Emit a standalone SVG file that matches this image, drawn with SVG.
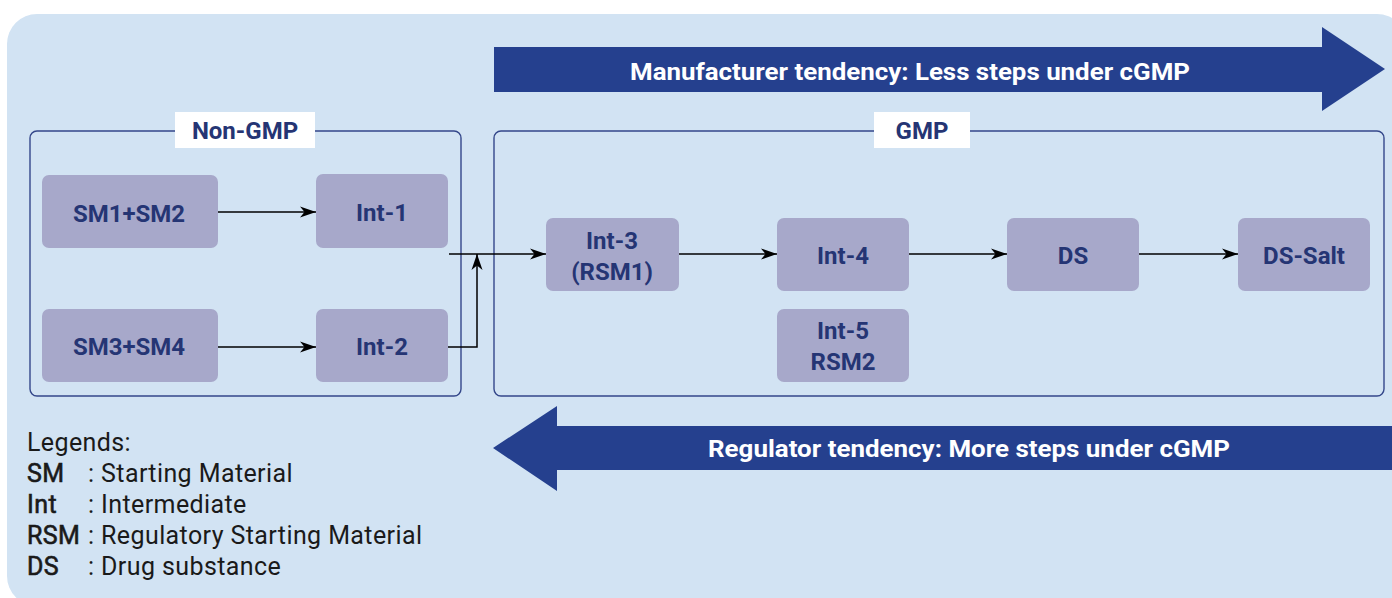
<svg xmlns="http://www.w3.org/2000/svg" width="1392" height="598" viewBox="0 0 1392 598">
<defs>
<style>
.bg{fill:#d2e3f3}
.frame{fill:none;stroke:#34478a;stroke-width:1.4}
.lbl{fill:#ffffff}
.lbltxt{font-family:Roboto,"Liberation Sans",sans-serif;font-weight:bold;font-size:24px;fill:#253574;text-anchor:middle}
.node rect{fill:#a7a8ca}
.node text{font-family:Roboto,"Liberation Sans",sans-serif;font-weight:bold;font-size:24px;fill:#253574;text-anchor:middle}
.band{fill:#25408e}
.bandtxt{font-family:Roboto,"Liberation Sans",sans-serif;font-weight:bold;font-size:23px;fill:#ffffff;text-anchor:middle}
.conn{fill:none;stroke:#000000;stroke-width:1.5}
.leg{font-family:Roboto,"Liberation Sans",sans-serif;font-size:25px;letter-spacing:0.4px;fill:#1a1a1a}
.legb{stroke:#1a1a1a;stroke-width:0.6}
</style>
<marker id="ah" markerUnits="userSpaceOnUse" markerWidth="17" markerHeight="12" refX="16" refY="6" orient="auto">
<path d="M0,0.5 L16,6 L0,11.5 L4.5,6 Z" fill="#000000"/>
</marker>
</defs>

<rect class="bg" x="7" y="14" width="1400" height="592" rx="30"/>

<g id="tendency-manufacturer">
<polygon class="band" points="494,47 1322,47 1322,27 1385,69 1322,111 1322,92 494,92"/>
<text class="bandtxt" x="910" y="80" textLength="560" lengthAdjust="spacingAndGlyphs">Manufacturer tendency: Less steps under cGMP</text>
</g>

<g id="tendency-regulator">
<polygon class="band" points="493,448 557,406 557,426 1400,426 1400,470 557,470 557,491"/>
<text class="bandtxt" x="969" y="457" textLength="522" lengthAdjust="spacingAndGlyphs">Regulator tendency: More steps under cGMP</text>
</g>

<g id="non-gmp">
<rect class="frame" x="30" y="131" width="431" height="265" rx="7"/>
<rect class="lbl" x="175" y="112" width="140" height="36"/>
<text class="lbltxt" x="245" y="139">Non-GMP</text>
</g>

<g id="gmp">
<rect class="frame" x="494" y="131" width="890" height="265" rx="7"/>
<rect class="lbl" x="874" y="112" width="96" height="36"/>
<text class="lbltxt" x="922" y="139">GMP</text>
</g>

<g id="connectors">
<line class="conn" x1="218" y1="212" x2="316" y2="212" marker-end="url(#ah)"/>
<line class="conn" x1="218" y1="347" x2="316" y2="347" marker-end="url(#ah)"/>
<line class="conn" x1="449" y1="254" x2="546" y2="254" marker-end="url(#ah)"/>
<polyline class="conn" points="448,347 477,347 477,254" marker-end="url(#ah)"/>
<line class="conn" x1="679" y1="254" x2="777" y2="254" marker-end="url(#ah)"/>
<line class="conn" x1="909" y1="254" x2="1007" y2="254" marker-end="url(#ah)"/>
<line class="conn" x1="1139" y1="254" x2="1238" y2="254" marker-end="url(#ah)"/>
</g>

<g id="sm1-sm2" class="node">
<rect x="42" y="175" width="176" height="73" rx="7"/>
<text x="129" y="222">SM1+SM2</text>
</g>
<g id="int-1" class="node">
<rect x="316" y="174" width="132" height="74" rx="7"/>
<text x="382" y="221">Int-1</text>
</g>
<g id="sm3-sm4" class="node">
<rect x="42" y="309" width="176" height="73" rx="7"/>
<text x="129" y="355">SM3+SM4</text>
</g>
<g id="int-2" class="node">
<rect x="316" y="309" width="132" height="73" rx="7"/>
<text x="382" y="355">Int-2</text>
</g>
<g id="int-3" class="node">
<rect x="546" y="218" width="133" height="73" rx="7"/>
<text x="612" y="249">Int-3</text>
<text x="612" y="280">(RSM1)</text>
</g>
<g id="int-4" class="node">
<rect x="777" y="218" width="132" height="73" rx="7"/>
<text x="843" y="264">Int-4</text>
</g>
<g id="ds" class="node">
<rect x="1007" y="218" width="132" height="73" rx="7"/>
<text x="1073" y="264">DS</text>
</g>
<g id="ds-salt" class="node">
<rect x="1238" y="218" width="132" height="73" rx="7"/>
<text x="1304" y="264">DS-Salt</text>
</g>
<g id="int-5" class="node">
<rect x="777" y="309" width="132" height="73" rx="7"/>
<text x="843" y="339">Int-5</text>
<text x="843" y="370">RSM2</text>
</g>

<g id="legend">
<text class="leg" x="27" y="451">Legends:</text>
<text class="leg legb" x="27" y="482">SM</text>
<text class="leg" x="88" y="482">: Starting Material</text>
<text class="leg legb" x="27" y="513">Int</text>
<text class="leg" x="88" y="513">: Intermediate</text>
<text class="leg legb" x="27" y="544">RSM</text>
<text class="leg" x="88" y="544">: Regulatory Starting Material</text>
<text class="leg legb" x="27" y="575">DS</text>
<text class="leg" x="88" y="575">: Drug substance</text>
</g>
</svg>
